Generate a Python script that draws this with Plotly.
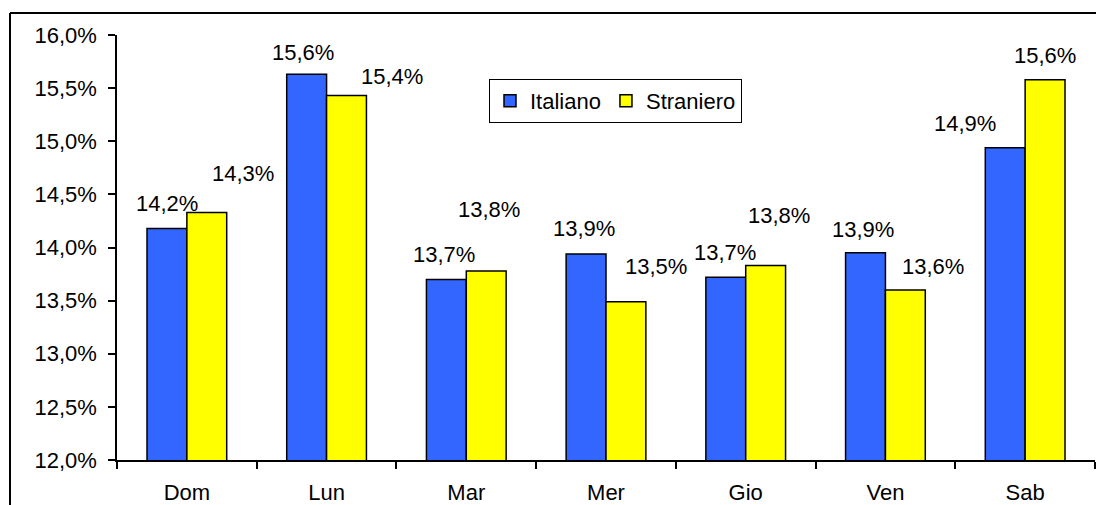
import plotly.graph_objects as go

categories = ["Dom", "Lun", "Mar", "Mer", "Gio", "Ven", "Sab"]
italiano = [14.18, 15.63, 13.70, 13.94, 13.72, 13.95, 14.94]
straniero = [14.33, 15.43, 13.78, 13.49, 13.83, 13.60, 15.58]
series_names = ["Italiano", "Straniero"]
y_ticks = [12.0, 12.5, 13.0, 13.5, 14.0, 14.5, 15.0, 15.5, 16.0]

# label placement offsets (pixels, relative to bar top centre): (dx, dy)
off_it = [(0, 25), (-4, 22), (-2, 25), (-2, 25), (-1, 25), (-2, 23), (-40, 24)]
off_st = [(36, 39), (45, 19), (3, 61), (30, 35), (13, 50), (28, 24), (0, 24)]

FONT = "Liberation Sans, Arial, sans-serif"
W, H = 1096, 505
L, T = 117, 35
R = W - 1095
B = H - 460
pw, ph = W - L - R, H - T - B

def fmt(v):
    return f"{v:.1f}".replace(".", ",") + "%"

fig = go.Figure()
fig.add_trace(go.Bar(x=categories, y=italiano, name=series_names[0],
                     marker=dict(color="#3366FF", line=dict(color="black", width=1.5))))
fig.add_trace(go.Bar(x=categories, y=straniero, name=series_names[1],
                     marker=dict(color="#FFFF00", line=dict(color="black", width=1.5))))

cat_px = pw / len(categories)
bar_px = 40
FS = 22
annots = []
for i, c in enumerate(categories):
    for vals, offs, sgn in ((italiano, off_it, -1), (straniero, off_st, 1)):
        dx, dy = offs[i]
        annots.append(dict(x=c, y=vals[i], xref="x", yref="y", text=fmt(vals[i]),
                           showarrow=False, xshift=sgn * bar_px / 2 + dx, yshift=dy,
                           xanchor="center", yanchor="middle",
                           font=dict(family=FONT, size=FS, color="black")))

# page pixel -> paper coordinates
def px_x(p):
    return (p - L) / pw
def px_y(p):
    return (H - B - p) / ph

shapes = [
    dict(type="line", xref="paper", yref="paper", x0=px_x(10), x1=px_x(1200),
         y0=px_y(13), y1=px_y(13), line=dict(color="black", width=2)),
    dict(type="line", xref="paper", yref="paper", x0=px_x(10), x1=px_x(10),
         y0=px_y(13), y1=px_y(560), line=dict(color="black", width=2)),
]

fig.update_layout(
    width=W, height=H,
    margin=dict(l=L, r=R, t=T, b=B, pad=0),
    paper_bgcolor="white", plot_bgcolor="white",
    separators=",.",
    barmode="group", bargap=60 / cat_px, bargroupgap=0,
    font=dict(family=FONT, size=FS, color="black"),
    showlegend=True,
    legend=dict(orientation="h", x=px_x(489), y=px_y(79), xanchor="left", yanchor="top",
                bordercolor="black", borderwidth=1, bgcolor="white",
                font=dict(family=FONT, size=FS, color="black"),
                itemwidth=30, tracegroupgap=0),
    annotations=annots,
    shapes=shapes,
    xaxis=dict(type="category", showline=True, linecolor="black", linewidth=1.5,
               ticks="outside", tickson="boundaries", ticklen=7, tickcolor="black",
               tickwidth=1.5, showgrid=False, tickfont=dict(size=FS),
               ticklabelstandoff=12),
    yaxis=dict(range=[12, 16], tickvals=y_ticks, ticktext=[fmt(v) for v in y_ticks],
               showline=True, linecolor="black", linewidth=1.5, ticks="outside",
               ticklen=7, tickcolor="black", tickwidth=1.5, showgrid=False,
               zeroline=False, tickfont=dict(size=FS), ticklabelstandoff=7),
)

fig.write_html(
    "out.html",
    config={"displayModeBar": False},
    post_script="document.body.style.margin='0';document.body.style.overflow='hidden';",
)
